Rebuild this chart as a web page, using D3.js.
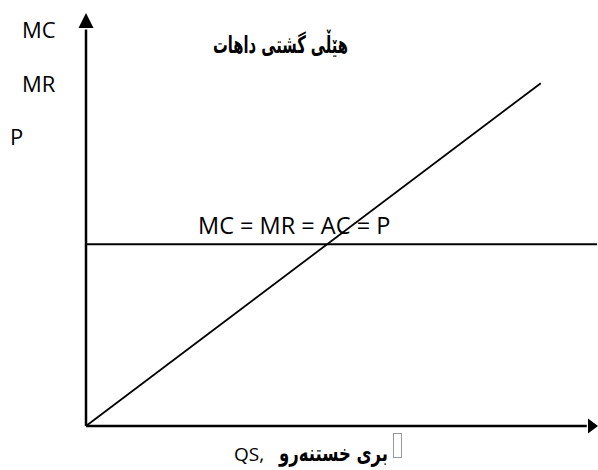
<!DOCTYPE html>
<html lang="en">
<head>
    <meta charset="UTF-8">
    <title>MC MR P</title>
    <style type="text/css">
        body {
            margin: 0;
            background-color: #fff;
        }
        .latin {
            font-family: 'Open Sans', sans-serif;
            fill: #000;
        }
        .kurdish {
            font-family: 'DejaVu Sans', sans-serif;
            font-weight: bold;
            fill: #000;
        }
    </style>
</head>
<body>
<div id="chart"></div>
<script type="text/javascript" src="https://cdn.jsdelivr.net/npm/d3@7"></script>
<script type="text/javascript">
    // values (0..100 on both axes)
    var supplyQ = [0, 89];
    var supplyP = [0, 83];
    var priceQ = [0, 100];
    var priceP = [44, 44];

    var yLabels = ["MC", "MR", "P"];
    var lineLabel = "MC = MR = AC = P";
    var title = "هێڵی گشتی داهات";
    var xLabel = "بری خستنەرو";
    var xLabelLatin = "QS,";

    var width = 598, height = 470;

    var x = d3.scaleLinear().domain([0, 100]).range([86, 597]);
    var y = d3.scaleLinear().domain([0, 100]).range([426, 13]);

    var svg = d3.select("#chart").append("svg")
        .attr("width", width)
        .attr("height", height);

    var line = d3.line()
        .x(function (d) { return x(d[0]); })
        .y(function (d) { return y(d[1]); });

    // axes
    svg.append("line")
        .attr("x1", x(0)).attr("y1", y(0))
        .attr("x2", x(0)).attr("y2", y(96))
        .attr("stroke", "#000").attr("stroke-width", 2.5);
    svg.append("line")
        .attr("x1", x(0)).attr("y1", y(0))
        .attr("x2", x(98)).attr("y2", y(0))
        .attr("stroke", "#000").attr("stroke-width", 2.5);

    // arrow heads
    svg.append("path")
        .attr("d", "M" + x(0) + "," + y(100) + "L" + (x(0) - 7.5) + "," + (y(100) + 15) +
            "L" + (x(0) + 7.5) + "," + (y(100) + 15) + "Z")
        .attr("fill", "#000");
    svg.append("path")
        .attr("d", "M" + (x(100) + 1) + "," + y(0) + "L" + (x(100) - 9) + "," + (y(0) - 7.5) +
            "L" + (x(100) - 9) + "," + (y(0) + 7.5) + "Z")
        .attr("fill", "#000");

    // MC line and price line
    svg.append("path")
        .datum(d3.zip(supplyQ, supplyP))
        .attr("d", line)
        .attr("fill", "none")
        .attr("stroke", "#000")
        .attr("stroke-width", 1.8);

    svg.append("path")
        .datum(d3.zip(priceQ, priceP))
        .attr("d", line)
        .attr("fill", "none")
        .attr("stroke", "#000")
        .attr("stroke-width", 2);

    // texts
    svg.selectAll(".ylab")
        .data(yLabels)
        .enter().append("text")
        .attr("class", "latin ylab")
        .attr("x", function (d, i) { return i == 2 ? 10 : 22; })
        .attr("y", function (d, i) { return 38 + i * 53.5; })
        .style("font-size", "22px")
        .text(function (d) { return d; });

    svg.append("text")
        .attr("class", "latin")
        .attr("x", 198)
        .attr("y", 234)
        .style("font-size", "23.5px")
        .text(lineLabel);

    svg.append("text")
        .attr("class", "kurdish")
        .attr("x", 213)
        .attr("y", 53)
        .attr("textLength", 135)
        .attr("lengthAdjust", "spacingAndGlyphs")
        .style("font-size", "24px")
        .text(title);

    svg.append("text")
        .attr("class", "latin")
        .attr("x", 234)
        .attr("y", 461)
        .style("font-size", "19px")
        .text(xLabelLatin);

    svg.append("text")
        .attr("class", "kurdish")
        .attr("x", 279)
        .attr("y", 461)
        .attr("textLength", 109)
        .attr("lengthAdjust", "spacingAndGlyphs")
        .style("font-size", "23px")
        .text(xLabel);

    // missing-glyph box after the label
    svg.append("rect")
        .attr("x", 393.5)
        .attr("y", 433.5)
        .attr("width", 8)
        .attr("height", 24)
        .attr("fill", "none")
        .attr("stroke", "#999")
        .attr("stroke-width", 1);
</script>
</body>
</html>
